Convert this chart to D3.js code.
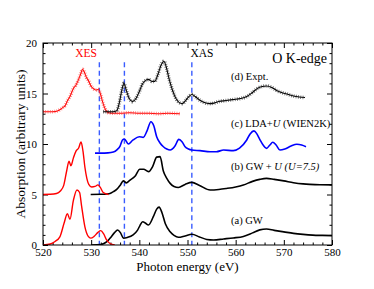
<!DOCTYPE html>
<html><head><meta charset="utf-8">
<script src="https://cdn.jsdelivr.net/npm/d3@7"></script>
<style>
body{margin:0;background:#fff;}
text{font-family:"Liberation Serif","Times New Roman",serif;}
</style></head>
<body><svg id="c" width="374" height="289"></svg>
<script>
// ---- data ----
const xTicks = [520,530,540,550,560,570,580];
const yTicks = [0,5,10,15,20];
const dashedLines = [531.7, 536.9, 550.9];

// (a) GW – XES (red) and XAS (black)
const gwXesX = [520,521.5,522.5,523.5,524.4,525.05,525.6,526.3,527.05,527.6,528.0,528.7,529.4,529.9,530.6,531.4,532.0,532.6,533.2,533.9,534.9];
const gwXesY = [0,0.1,0.35,0.8,2.2,3.1,2.55,4.4,5.45,5.2,3.9,1.8,0.85,0.68,0.85,1.25,1.42,1.1,0.5,0.15,0];
const gwXasX = [530,532,533.2,533.9,534.8,535.5,536.1,536.7,537.5,538.7,539.6,540.1,540.7,541.3,541.9,542.9,543.6,544.1,544.7,545.4,546.4,547.2,548.1,549.5,550.9,552.5,554,555.4,557.5,559.5,561.6,563.5,565,566.4,568,570,572,574,576,578,580];
const gwXasY = [0,0.05,0.3,0.66,1.2,1.49,1.2,0.68,0.75,1.0,1.45,1.9,2.3,2.15,1.98,2.8,3.55,3.75,3.2,2.1,1.3,0.95,0.76,0.9,1.06,0.8,0.55,0.5,0.6,0.7,0.85,1.2,1.5,1.58,1.45,1.3,1.15,1.05,0.98,0.95,0.93];

// (b) GW + U – XES (red) and XAS (black)
const guXesX = [520,521.5,522.8,523.6,524.3,524.9,525.4,525.8,526.3,526.85,527.4,527.9,528.3,528.7,529.1,529.5,530.1,530.8,531.4,531.9,532.5,533.6];
const guXesY = [5,5.02,5.1,5.35,5.9,7.3,8.3,7.85,8.6,9.3,9.6,10.2,9.3,7.7,6.6,6.0,5.75,5.8,5.95,5.7,5.2,5.0];
const guXasX = [529.9,532,533.2,533.9,534.6,535.3,536.0,536.7,537.3,538.0,539.1,540.1,540.9,541.9,542.8,543.6,544.3,545.0,545.7,546.4,547.2,548.1,549.5,550.9,552.5,554.7,556.5,558.1,560,561.6,563.5,565,566.4,568,570,572,574,575.4,577.5,580];
const guXasY = [5,5.02,5.05,5.1,5.28,5.5,5.9,6.35,6.15,6.4,6.8,7.5,7.5,7.26,7.8,8.7,8.75,7.3,6.6,6.1,5.8,5.7,6.0,6.2,5.9,5.45,5.5,5.6,5.75,5.94,6.3,6.5,6.6,6.5,6.35,6.17,6.05,6.0,5.96,5.95];

// (c) LDA+U (WIEN2K)
const ldaX = [530.8,532,533.5,534.6,535.4,536.0,536.5,536.9,537.7,538.7,540.0,540.8,541.6,542.4,543.0,543.6,544.3,545.0,545.7,546.4,547.4,548.2,548.9,549.5,550.2,550.9,552.6,554.7,556,557.5,559.5,560.8,562.3,563.0,563.8,564.4,565.0,565.7,566.4,567.1,567.7,568.4,569.2,570.2,571.5,572.7,573.7,574.6];
const ldaY = [9.1,9.1,9.12,9.2,9.45,9.8,10.4,10.5,10.0,10.4,10.72,10.66,11.3,12.2,11.8,10.72,10.1,9.73,9.5,9.4,9.8,10.46,10.2,9.73,9.5,9.4,9.34,9.24,9.24,9.4,9.34,9.6,10.4,11.0,11.3,11.0,10.46,9.9,9.57,9.9,10.17,9.9,9.4,9.5,9.8,9.97,9.9,9.73];

// (d) Expt. – XES (red) and XAS (black)
const exXesX = [520,521,522,522.8,523.5,524.1,524.6,525.1,525.6,526.3,526.8,527.3,527.8,528.2,528.6,529.0,529.4,529.9,530.4,530.9,531.5,531.9,532.3,532.7,533.1,533.6,534.5,536,538,540,542,544,546,548.4];
const exXesY = [13.2,13.2,13.2,13.25,13.4,13.6,13.8,14.3,14.7,15.5,15.8,16.3,16.9,17.4,17.1,16.6,16.3,15.8,15.5,15.35,15.4,15.0,14.3,13.7,13.3,13.1,13.05,13.05,13.1,13.05,13.05,13.0,13.05,13.0];
const exXasX = [532.5,533.5,534.5,535.3,535.9,536.4,536.8,537.3,537.9,538.6,539.3,540.0,540.6,541.3,541.9,542.6,543.2,543.8,544.5,545.1,545.6,546.2,546.9,547.6,548.3,548.9,549.6,550.3,550.9,551.6,552.5,553.5,554.5,555.5,556.5,558,559.5,561,562.3,563.5,564.5,565.5,566.4,567.5,568.5,569.5,570.6,572,573.2,574.4];
const exXasY = [13.2,13.2,13.2,13.3,14.2,15.4,16.0,15.3,14.5,14.2,14.5,15.2,15.9,16.3,16.4,16.2,16.2,16.8,17.8,18.2,17.6,16.4,15.3,14.5,14.1,14.0,14.3,14.7,14.9,14.7,14.35,14.1,14.0,14.05,14.2,14.3,14.4,14.5,14.7,15.1,15.5,15.7,15.75,15.6,15.3,15.1,14.95,14.75,14.65,14.6];

const curveLabels = [
  {y:16.3, parts:[["(d) Expt.",""]]},
  {y:11.7, parts:[["(c) LDA+",""],["U","italic"],[" (WIEN2K)",""]]},
  {y:7.45, parts:[["(b) GW + ",""],["U","italic"],[" ",""],["(U=7.5)","italic"]]},
  {y:2.1, parts:[["(a) GW",""]]}
];

// ---- chart ----
const svg = d3.select("#c");
const L=43, R=332, T=43, B=245;
const x = d3.scaleLinear().domain([520,580]).range([L,R]);
const y = d3.scaleLinear().domain([0,20]).range([B,T]);

svg.append("defs").append("clipPath").attr("id","clip")
  .append("rect").attr("x",L).attr("y",T).attr("width",R-L).attr("height",B-T);

// axes (ticks pointing inward on all sides)
const minorX = d3.range(520,581,2).filter(v=>v%10!==0);
const minorY = d3.range(0,21,1).filter(v=>v%5!==0);
function styleAxis(g){ g.select(".domain").remove(); g.selectAll("line").attr("stroke","#000").attr("stroke-width",1); g.selectAll("text").attr("font-size",11).attr("fill","#000").attr("font-family","Liberation Serif, serif"); }
svg.append("g").attr("transform",`translate(0,${B})`).call(d3.axisBottom(x).tickValues(xTicks).tickSize(-5).tickPadding(3).tickFormat(d3.format("d"))).call(styleAxis);
svg.append("g").attr("transform",`translate(0,${B})`).call(d3.axisBottom(x).tickValues(minorX).tickSize(-2.5).tickFormat("")).call(styleAxis);
svg.append("g").attr("transform",`translate(0,${T})`).call(d3.axisTop(x).tickValues(xTicks).tickSize(-5).tickFormat("")).call(styleAxis);
svg.append("g").attr("transform",`translate(0,${T})`).call(d3.axisTop(x).tickValues(minorX).tickSize(-2.5).tickFormat("")).call(styleAxis);
svg.append("g").attr("transform",`translate(${L},0)`).call(d3.axisLeft(y).tickValues(yTicks).tickSize(-5).tickPadding(6)).call(styleAxis);
svg.append("g").attr("transform",`translate(${L},0)`).call(d3.axisLeft(y).tickValues(minorY).tickSize(-2.5).tickFormat("")).call(styleAxis);
svg.append("g").attr("transform",`translate(${R},0)`).call(d3.axisRight(y).tickValues(yTicks).tickSize(-5).tickFormat("")).call(styleAxis);
svg.append("g").attr("transform",`translate(${R},0)`).call(d3.axisRight(y).tickValues(minorY).tickSize(-2.5).tickFormat("")).call(styleAxis);

const plot = svg.append("g").attr("clip-path","url(#clip)");
const line = d3.line().x(d=>x(d[0])).y(d=>y(d[1])).curve(d3.curveMonotoneX);
const zip = (a,b)=>a.map((v,i)=>[v,b[i]]);

// dashed blue guides
plot.selectAll(".guide").data(dashedLines).join("line")
  .attr("x1",d=>x(d)).attr("x2",d=>x(d)).attr("y1",y(18.1)).attr("y2",B)
  .attr("stroke","#3a5cff").attr("stroke-width",1.4).attr("stroke-dasharray","5,3.5");

function curve(xs,ys,color,w){
  plot.append("path").attr("d",line(zip(xs,ys))).attr("fill","none").attr("stroke",color).attr("stroke-width",w).attr("stroke-linejoin","round");
}
function markedCurve(xs,ys,color,mcolor){
  const d = line(zip(xs,ys));
  plot.append("path").attr("d",d).attr("fill","none").attr("stroke",color).attr("stroke-width",1.1);
  plot.append("path").attr("d",d).attr("fill","none").attr("stroke",mcolor).attr("stroke-width",3.6).attr("stroke-dasharray","0.8,1.5").attr("opacity",0.7);
}
curve(gwXasX,gwXasY,"#000",1.6);
curve(gwXesX,gwXesY,"#ff0000",1.4);
curve(guXasX,guXasY,"#000",1.6);
curve(guXesX,guXesY,"#ff0000",1.4);
curve(ldaX,ldaY,"#0000ff",1.6);
markedCurve(exXesX,exXesY,"#ff0000","#ff4040");
markedCurve(exXasX,exXasY,"#000","#222");

// frame
svg.append("rect").attr("x",L).attr("y",T).attr("width",R-L).attr("height",B-T).attr("fill","none").attr("stroke","#000").attr("stroke-width",1);

// labels
svg.append("text").attr("x",86).attr("y",57).attr("text-anchor","middle").attr("font-size",11.5).attr("fill","#ff0000").text("XES");
svg.append("text").attr("x",202).attr("y",57).attr("text-anchor","middle").attr("font-size",11.5).attr("fill","#000").text("XAS");
svg.append("text").attr("x",327).attr("y",63).attr("text-anchor","end").attr("font-size",14).attr("fill","#000").text("O K-edge");

curveLabels.forEach(lb=>{
  const t = svg.append("text").attr("x",231).attr("y",y(lb.y)).attr("font-size",10.5).attr("fill","#000");
  lb.parts.forEach(p=>t.append("tspan").attr("font-style",p[1]||null).text(p[0]));
});

svg.append("text").attr("x",(L+R)/2).attr("y",270.5).attr("text-anchor","middle").attr("font-size",13).text("Photon energy (eV)");
svg.append("text").attr("transform",`translate(25,${(T+B)/2}) rotate(-90)`).attr("text-anchor","middle").attr("font-size",13.5).text("Absorption (arbitrary units)");
</script></body></html>
